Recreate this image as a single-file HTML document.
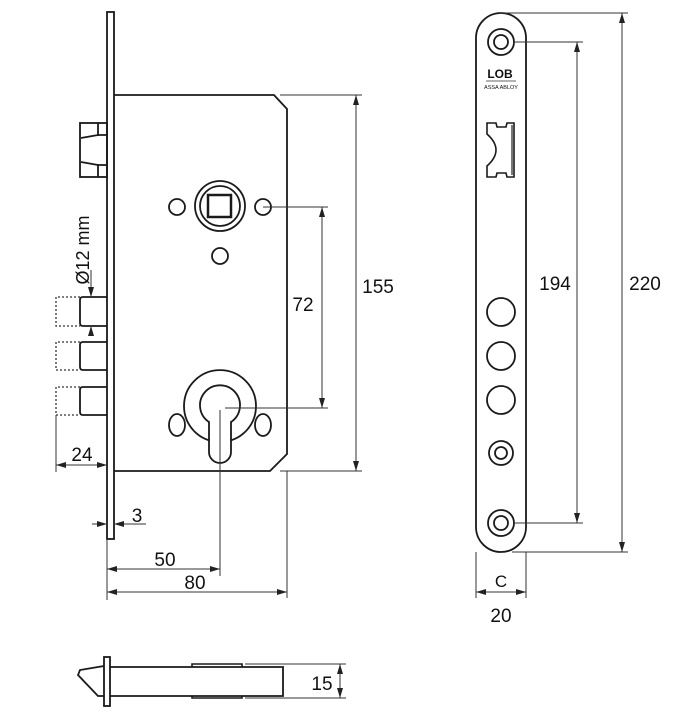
<!DOCTYPE html>
<html><head><style>
html,body{margin:0;padding:0;background:#fff;}
svg{display:block;}
text{font-family:"Liberation Sans",sans-serif;fill:#111;}
</style></head><body>
<svg width="694" height="720" viewBox="0 0 694 720" xmlns="http://www.w3.org/2000/svg">
<defs>
<marker id="a" viewBox="0 0 10 6" refX="10" refY="3" markerWidth="10" markerHeight="6" orient="auto-start-reverse" markerUnits="userSpaceOnUse"><path d="M0,0 L10,3 L0,6 z" fill="#222"/></marker>
</defs>
<g fill="none" stroke="#1a1a1a" stroke-width="1.8">
<rect x="107" y="12" width="7" height="527"/>
<path d="M114,95 L274,95 L287,109 L287,454 L270,471 L114,471"/>
<rect x="80" y="123" width="27" height="54"/>
<path d="M98,123 V136 M98,164 V177 M81,138 L98,135 L107,135 M81,162 L98,165 L107,165"/>
<path d="M107,297 H83 Q80,297 80,300 V323 Q80,326 83,326 H107"/>
<path d="M107,342 H83 Q80,342 80,345 V367 Q80,370 83,370 H107"/>
<path d="M107,387 H83 Q80,387 80,390 V412 Q80,415 83,415 H107"/>
</g>
<g fill="none" stroke="#333" stroke-width="1.3" stroke-dasharray="2,2">
<path d="M80,297 H56 V326 H80 M80,342 H56 V370 H80 M80,387 H56 V415 H80"/>
</g>
<g fill="none" stroke="#1a1a1a" stroke-width="1.8">
<circle cx="220" cy="206" r="25"/>
<circle cx="220" cy="206" r="20"/>
<rect x="208" y="195" width="23" height="22" stroke-width="2.5"/>
<circle cx="177" cy="207" r="8"/>
<circle cx="263" cy="207" r="8"/>
<circle cx="220" cy="256" r="8"/>
<path d="M194,431 A36,36 0 1 1 246,431"/>
<path d="M194,431 A36,36 0 0 0 246,431"/>
<ellipse cx="177" cy="425" rx="8" ry="11" fill="#fff"/>
<ellipse cx="263" cy="425" rx="8" ry="11" fill="#fff"/>
<path d="M209,422 A20,20 0 1 1 231,422 L231,452 A11,11 0 0 1 209,452 Z" fill="#fff"/>
</g>
<g fill="none" stroke="#333" stroke-width="1">
<path d="M263,207 H328 M225,408 H328"/>
<line x1="322" y1="207" x2="322" y2="408" marker-start="url(#a)" marker-end="url(#a)"/>
<path d="M280,95 H362 M280,471 H362"/>
<line x1="356" y1="95" x2="356" y2="471" marker-start="url(#a)" marker-end="url(#a)"/>
<path d="M91,270 V297 M91,326 V336"/>
<line x1="91" y1="285" x2="91" y2="297" marker-end="url(#a)"/>
<line x1="91" y1="336" x2="91" y2="326" marker-end="url(#a)"/>
<path d="M56,415 V472"/>
<line x1="56" y1="465" x2="107" y2="465" marker-start="url(#a)" marker-end="url(#a)"/>
<line x1="92" y1="524" x2="107" y2="524" marker-end="url(#a)"/>
<line x1="146" y1="524" x2="114" y2="524" marker-end="url(#a)"/>
<path d="M107,539 V600 M220,410 V576 M287,471 V598"/>
<line x1="107" y1="569" x2="220" y2="569" marker-start="url(#a)" marker-end="url(#a)"/>
<line x1="107" y1="592" x2="287" y2="592" marker-start="url(#a)" marker-end="url(#a)"/>
</g>
<text x="303" y="311" font-size="19" text-anchor="middle">72</text>
<text x="378" y="293" font-size="19" text-anchor="middle">155</text>
<text transform="translate(89,250) rotate(-90)" font-size="18" text-anchor="middle">Ø12 mm</text>
<text x="82" y="461" font-size="19" text-anchor="middle">24</text>
<text x="137" y="522" font-size="19" text-anchor="middle">3</text>
<text x="165" y="566" font-size="19" text-anchor="middle">50</text>
<text x="195" y="589" font-size="19" text-anchor="middle">80</text>
<g fill="none" stroke="#1a1a1a" stroke-width="1.8">
<rect x="476" y="13" width="50" height="539" rx="25" ry="25"/>
<circle cx="501" cy="42" r="13"/><circle cx="501" cy="42" r="7"/>
<circle cx="501" cy="523" r="13"/><circle cx="501" cy="523" r="7"/>
<circle cx="501" cy="312" r="14"/>
<circle cx="501" cy="356" r="14"/>
<circle cx="501" cy="400" r="14"/>
<circle cx="501" cy="453" r="12"/><circle cx="501" cy="453" r="6"/>
<path d="M487,123 H496 L497,127 H506 L507,123 H514 V177 H507 L506,173 H497 L496,177 H487 V166 Q496,158 496,150 Q496,142 487,134 Z" stroke-width="1.6"/>
<path d="M512,125 V175" stroke-width="1.2"/>
</g>
<text x="500" y="78" font-size="12" font-weight="bold" text-anchor="middle">LOB</text>
<line x1="486" y1="81" x2="516" y2="81" stroke="#333" stroke-width="0.8"/>
<text x="501" y="89" font-size="5.5" text-anchor="middle">ASSA ABLOY</text>
<g fill="none" stroke="#333" stroke-width="1">
<path d="M514,42 H583 M514,523 H583 M500,13 H628 M512,552 H628"/>
<line x1="577" y1="42" x2="577" y2="523" marker-start="url(#a)" marker-end="url(#a)"/>
<line x1="622" y1="13" x2="622" y2="552" marker-start="url(#a)" marker-end="url(#a)"/>
<path d="M476,552 V598 M526,552 V598"/>
<line x1="476" y1="592" x2="526" y2="592" marker-start="url(#a)" marker-end="url(#a)"/>
</g>
<text x="555" y="290" font-size="19" text-anchor="middle">194</text>
<text x="645" y="290" font-size="19" text-anchor="middle">220</text>
<text x="501" y="587" font-size="17" text-anchor="middle">C</text>
<text x="501" y="622" font-size="19" text-anchor="middle">20</text>
<g fill="none" stroke="#1a1a1a" stroke-width="1.8">
<rect x="104" y="657" width="6" height="49"/>
<path d="M104,666 L80,670 L78,675 L98,696 L104,696"/>
<path d="M110,667 H283 V696 H110"/>
<path d="M192,667 V664 H242 V667 M192,696 V698 H242 V696" stroke-width="1.6"/>
</g>
<g fill="none" stroke="#333" stroke-width="1">
<path d="M245,664 H346 M245,698 H346"/>
<line x1="340" y1="664" x2="340" y2="698" marker-start="url(#a)" marker-end="url(#a)"/>
</g>
<text x="322" y="690" font-size="19" text-anchor="middle">15</text>
</svg>
</body></html>
